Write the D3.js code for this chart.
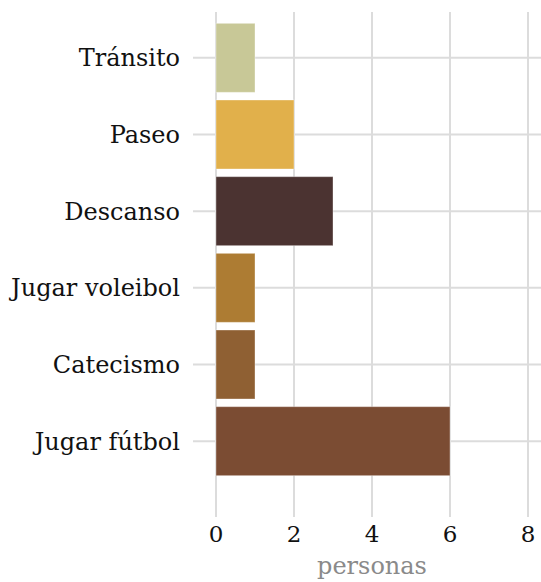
<!DOCTYPE html>
<html><head><meta charset="utf-8">
<script src="https://cdn.jsdelivr.net/npm/d3@7"></script>
<style>body{margin:0;background:#fff;} svg{display:block;}</style>
</head><body>
<script>
const categories = ["Tránsito","Paseo","Descanso","Jugar voleibol","Catecismo","Jugar fútbol"];
const values = [1,2,3,1,1,6];
const colors = ["#c8c897","#e1b04b","#4b3331","#ad7c33","#8f6033","#7b4c33"];
const xTicks = [0,2,4,6,8];
const xTitle = "personas";

const W = 541, H = 582;
const font = "'DejaVu Serif', serif";
const svg = d3.select("body").append("svg").attr("width", W).attr("height", H);

const x = d3.scaleLinear().domain([0,8]).range([216,528]);
const y = d3.scaleBand().domain(categories).range([19.5,479.5]).paddingInner(0.1).paddingOuter(0.05);

const grid = "#dcdcdc";
svg.append("g").selectAll("line").data(xTicks).join("line")
  .attr("x1", d=>x(d)).attr("x2", d=>x(d)).attr("y1", 12).attr("y2", 517)
  .attr("stroke", grid).attr("stroke-width", 2);
svg.append("g").selectAll("line").data(categories).join("line")
  .attr("x1", 193).attr("x2", W).attr("y1", d=>y(d)+y.bandwidth()/2).attr("y2", d=>y(d)+y.bandwidth()/2)
  .attr("stroke", grid).attr("stroke-width", 2);

svg.append("g").selectAll("rect").data(categories).join("rect")
  .attr("x", x(0)).attr("y", d=>y(d))
  .attr("width", (d,i)=>x(values[i])-x(0)).attr("height", y.bandwidth())
  .attr("fill", (d,i)=>colors[i])
  .attr("stroke", "rgba(255,255,255,0.35)").attr("stroke-width", 1);

svg.append("g").selectAll("text").data(categories).join("text")
  .attr("x", 180).attr("y", d=>y(d)+y.bandwidth()/2).attr("dy", "0.35em")
  .attr("text-anchor", "end").attr("font-family", font).attr("font-size", 24).attr("fill", "#111")
  .text(d=>d);

svg.append("g").selectAll("text").data(xTicks).join("text")
  .attr("x", d=>x(d)).attr("y", 542).attr("text-anchor", "middle")
  .attr("font-family", font).attr("font-size", 23).attr("fill", "#111").text(d=>d);

svg.append("text").attr("x", x(4)).attr("y", 574).attr("text-anchor", "middle")
  .attr("font-family", font).attr("font-size", 24).attr("fill", "#8a8a8a").text(xTitle);
</script>
</body></html>
